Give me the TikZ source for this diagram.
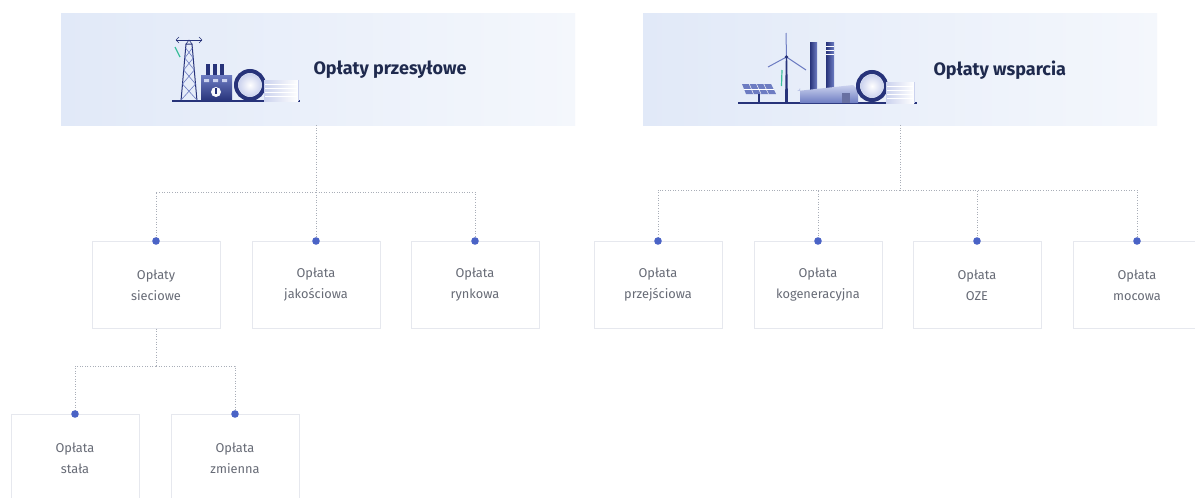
\documentclass[tikz,border=0pt]{standalone}
\usepackage{fontspec}
\setmainfont{Fira Sans}
\usetikzlibrary{calc}
\definecolor{navy}{HTML}{27337A}
\definecolor{midblue}{HTML}{6D7CC2}
\definecolor{paleblue}{HTML}{CBD2EE}
\definecolor{headl}{HTML}{E1E9F8}
\definecolor{headr}{HTML}{F4F7FC}
\definecolor{boxline}{HTML}{E6E8EE}
\definecolor{textgray}{HTML}{676B76}
\definecolor{dotgray}{HTML}{A9AEB8}
\definecolor{dotblue}{HTML}{4A63C6}
\definecolor{teal}{HTML}{3DBE9C}
\definecolor{titlec}{HTML}{1F2A4E}
\tikzset{
  header/.style={rectangle, minimum width=514pt, minimum height=112pt,
    left color=headl, right color=headr, draw=none, inner sep=0pt},
  leaf/.style={rectangle, draw=boxline, line width=0.6pt, fill=white,
    minimum width=128pt, minimum height=87pt, align=center, inner sep=0pt,
    text=textgray, font=\fontsize{12.8}{21}\selectfont},
  link/.style={draw=dotgray, line width=0.9pt, dash pattern=on 1pt off 1.6pt},
  pin/.style={fill=dotblue},
  title/.style={font=\fontsize{18}{20}\selectfont\bfseries, text=titlec, anchor=west},
  ink/.style={draw=navy, line width=1pt},
}
\begin{document}
\begin{tikzpicture}[x=1pt,y=-1pt]
\useasboundingbox (0,0) rectangle (1195,498);
\clip (0,0) rectangle (1195,498);
\fill[white] (0,0) rectangle (1195,498);

% headers
\node[header] (h1) at (318,69) {};
\node[header] (h2) at (900,69) {};
\node[title] (t1) at (310,70) {Opłaty przesyłowe};
\node[title] (t2) at (930,70) {Opłaty wsparcia};

% icon: transmission tower, substation, pipe, stack
\begin{scope}
  \draw[navy, line width=1.2pt] (172,101) -- (300,101);
  % tower
  \draw[ink] (176,40) -- (202,40);
  \draw[ink, line width=0.7pt] (176,40) -- (179,37) (176,40) -- (179,43) (202,40) -- (199,37) (202,40) -- (199,43);
  \draw[ink] (181,101) -- (186,44) -- (192,44) -- (197,101);
  \draw[navy, line width=0.6pt] (186,44) -- (189,40) -- (192,44);
  \foreach \ya/\yb in {48/58,58/70,70/84,84/100}{
    \draw[midblue, line width=0.6pt]
      ($(181,101)!{(101-\ya)/57}!(186,44)$) -- ($(197,101)!{(101-\yb)/57}!(192,44)$)
      ($(197,101)!{(101-\ya)/57}!(192,44)$) -- ($(181,101)!{(101-\yb)/57}!(186,44)$);
  }
  \draw[teal, line width=1.2pt] (175,47) -- (180,57);
  % substation building
  \shade[top color=midblue, bottom color=navy] (201,75) rectangle (232,101);
  \foreach \cx in {206,213,220}{
    \fill[navy] (\cx,64) rectangle ++(4,11);
  }
  \fill[paleblue] (204,79) rectangle ++(5,3) (213,79) rectangle ++(5,3) (222,79) rectangle ++(5,3);
  \fill[white!85!paleblue] (216,92) circle (5);
  \fill[navy] (215,88) rectangle (217,94);
  % pipe ring
  \draw[navy, line width=4pt] (250,85) circle (14);
  \shade[inner color=white, outer color=paleblue] (250,85) circle (11.5);
  % stacked cylinder
  \shade[left color=paleblue, right color=white] (264,80) rectangle (298,101);
  \foreach \yy in {84,88,92,96}{\draw[white, line width=0.6pt] (265,\yy) -- (297,\yy);}
  \draw[paleblue, line width=0.8pt] (298,80) -- (298,101);
\end{scope}

% icon: solar panel, wind turbine, power plant, pipe, stack
\begin{scope}
  \draw[navy, line width=1.2pt] (738,103) -- (917,103);
  % solar panel
  \fill[midblue] (742,84) -- (771,84) -- (776,94) -- (746,94) -- cycle;
  \foreach \k in {1,2,3}{\draw[white, line width=0.5pt] ($(742,84)!{\k/4}!(771,84)$) -- ($(746,94)!{\k/4}!(776,94)$);}
  \draw[white, line width=0.5pt] (744,89) -- (773.5,89);
  \draw[navy, line width=1.2pt] (759,94) -- (759,103);
  % wind turbine
  \fill[navy] (785,103) -- (785.8,58) -- (787.2,58) -- (788,103) -- cycle;
  \draw[midblue, line width=1pt] (786.5,57) -- (786,33);
  \draw[midblue, line width=1pt] (786.5,57) -- (768,67);
  \draw[midblue, line width=1pt] (786.5,57) -- (806,70);
  \fill[navy] (786.5,57) circle (1.8);
  \draw[teal, line width=1.2pt] (782,70) -- (781.5,86);
  % chimneys
  \shade[left color=navy, right color=midblue] (810,42) rectangle (817,90);
  \shade[left color=navy, right color=midblue] (826,42) rectangle (834,90);
  \foreach \yy in {46,50,54}{\draw[white, line width=0.7pt] (826,\yy) -- (834,\yy);}
  % plant base
  \shade[top color=paleblue, bottom color=midblue] (800,103) -- (800,88) arc (180:270:-3) -- (853,85) -- (858,90) -- (858,103) -- cycle;
  \fill[navy!70] (842,93) rectangle (850,103);
  % pipe ring
  \draw[navy, line width=4pt] (872,86) circle (14);
  \shade[inner color=white, outer color=paleblue] (872,86) circle (11.5);
  % stacked cylinder
  \shade[left color=paleblue, right color=white] (886,82) rectangle (914,103);
  \foreach \yy in {86,90,94,98}{\draw[white, line width=0.6pt] (887,\yy) -- (913,\yy);}
  \draw[paleblue, line width=0.8pt] (914,82) -- (914,103);
\end{scope}

% first level boxes, left group
\node[leaf, anchor=north] (a1) at (156,241) {Opłaty\\sieciowe};
\node[leaf, anchor=north] (a2) at (316,241) {Opłata\\jakościowa};
\node[leaf, anchor=north] (a3) at (475,241) {Opłata\\rynkowa};
% first level boxes, right group
\node[leaf, anchor=north] (b1) at (658,241) {Opłata\\przejściowa};
\node[leaf, anchor=north] (b2) at (818,241) {Opłata\\kogeneracyjna};
\node[leaf, anchor=north] (b3) at (977,241) {Opłata\\OZE};
\node[leaf, anchor=north] (b4) at (1137,241) {Opłata\\mocowa};
% second level boxes
\node[leaf, anchor=north] (c1) at (75,414) {Opłata\\stała};
\node[leaf, anchor=north] (c2) at (235,414) {Opłata\\zmienna};

% connectors
\coordinate (ja) at (316,192);
\coordinate (jb) at (900,190);
\coordinate (jc) at (156,366);
\draw[link] (h1.south -| ja) -- (ja);
\foreach \n in {a1,a2,a3}{\draw[link] (ja) -| (\n.north);}
\draw[link] (h2.south) -- (jb);
\foreach \n in {b1,b2,b3,b4}{\draw[link] (jb) -| (\n.north);}
\draw[link] (a1.south) -- (jc);
\foreach \n in {c1,c2}{\draw[link] (jc) -| (\n.north);}

% connection pins
\foreach \n in {a1,a2,a3,b1,b2,b3,b4,c1,c2}{\fill[pin] (\n.north) circle (3.8);}
\end{tikzpicture}
\end{document}
